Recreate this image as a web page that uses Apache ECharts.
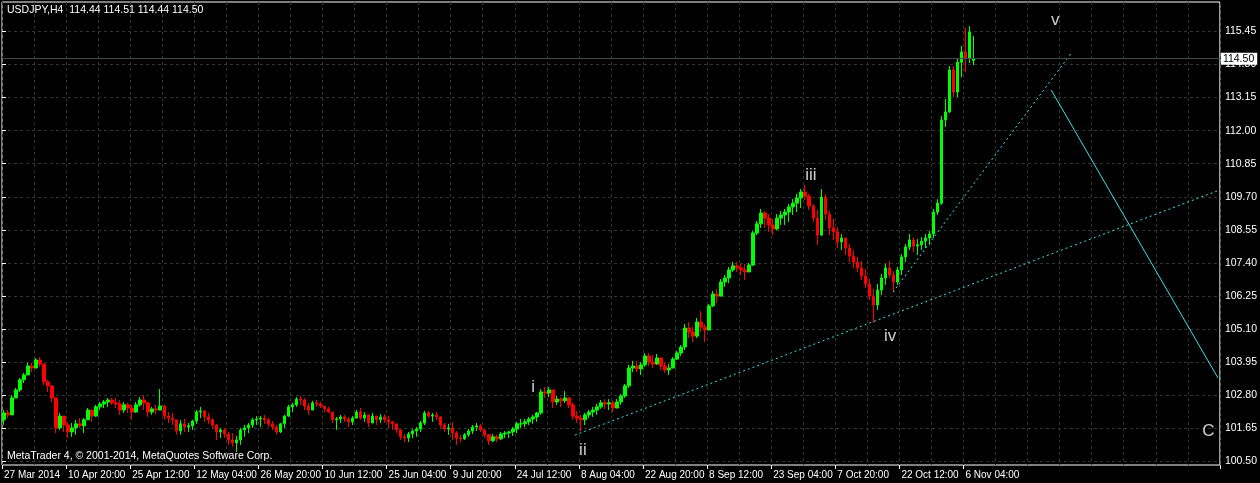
<!DOCTYPE html>
<html><head><meta charset="utf-8">
<script src="https://cdn.jsdelivr.net/npm/echarts@6/dist/echarts.min.js"></script>
<style>html,body{margin:0;padding:0;background:#000;}#c{width:1260px;height:483px;}</style>
</head><body><div id="c"></div>
<script>
// ---- data (USDJPY H4, each candle = 4 H4 bars) ----
const timeLabels = ['27 Mar 2014','10 Apr 20:00','25 Apr 12:00','12 May 04:00','26 May 20:00','10 Jun 12:00','25 Jun 04:00','9 Jul 20:00','24 Jul 12:00','8 Aug 04:00','22 Aug 20:00','8 Sep 12:00','23 Sep 04:00','7 Oct 20:00','22 Oct 12:00','6 Nov 04:00'];
const priceTicks = [100.50,101.65,102.80,103.95,105.10,106.25,107.40,108.55,109.70,110.85,112.00,113.15,114.30,115.45];

const closes = [102.19,102.12,102.71,102.99,103.34,103.51,103.82,103.75,104.03,103.89,
103.27,103.13,102.71,101.67,102.08,101.77,101.53,101.67,101.81,101.74,
101.95,102.29,102.08,102.40,102.50,102.57,102.64,102.54,102.50,102.29,
102.47,102.36,102.22,102.47,102.64,102.54,102.22,102.33,102.29,102.43,
102.08,102.01,101.95,101.56,101.81,101.70,101.74,101.91,102.22,102.26,
102.05,101.95,101.77,101.53,101.60,101.46,101.25,101.15,101.25,101.60,
101.67,101.77,101.95,101.98,102.01,101.95,101.81,101.70,101.53,101.81,
102.08,102.40,102.47,102.67,102.64,102.43,102.29,102.54,102.50,102.43,
102.33,102.22,101.95,101.98,102.05,101.98,101.88,102.01,102.22,102.01,
102.12,101.84,102.08,101.95,102.05,101.95,101.88,101.81,101.60,101.36,
101.32,101.46,101.56,101.63,101.84,102.19,102.08,102.12,102.05,101.77,
101.63,101.67,101.49,101.32,101.29,101.43,101.56,101.70,101.74,101.60,
101.43,101.22,101.36,101.29,101.46,101.49,101.53,101.63,101.81,101.81,
101.88,101.98,102.05,102.19,102.92,102.88,102.99,102.57,102.67,102.61,
102.71,102.47,102.08,102.01,101.95,102.12,102.22,102.29,102.40,102.54,
102.50,102.54,102.36,102.57,102.78,103.13,103.75,103.82,103.72,103.86,
104.17,103.96,103.89,104.10,103.82,103.68,103.75,104.06,104.27,104.48,
105.14,105.00,104.86,105.35,105.18,105.07,105.91,106.32,106.25,106.74,
106.88,107.16,107.30,107.23,107.16,107.09,107.33,108.44,108.76,109.14,
108.96,108.72,108.58,108.96,109.07,109.17,109.35,109.48,109.66,109.87,
109.73,109.38,108.96,108.37,109.69,109.10,108.62,108.48,108.13,108.27,
107.92,107.64,107.43,107.23,106.95,106.67,106.25,105.94,106.46,106.88,
107.23,106.98,106.74,107.16,107.61,107.96,108.20,107.99,108.03,108.16,
108.27,108.41,109.17,109.48,112.37,112.65,114.11,113.34,114.38,114.73,
114.52,115.43,114.50];

const opens = [101.95,102.19,102.12,102.71,102.99,103.34,103.51,103.82,103.75,104.03,
103.89,103.27,103.13,102.71,101.67,102.08,101.77,101.53,101.67,101.81,
101.74,101.95,102.29,102.08,102.40,102.50,102.57,102.64,102.54,102.50,
102.29,102.47,102.36,102.22,102.47,102.64,102.54,102.22,102.33,102.29,
102.43,102.08,102.01,101.95,101.56,101.81,101.70,101.74,101.91,102.22,
102.26,102.05,101.95,101.77,101.53,101.60,101.46,101.25,101.15,101.25,
101.60,101.67,101.77,101.95,101.98,102.01,101.95,101.81,101.70,101.53,
101.81,102.08,102.40,102.47,102.67,102.64,102.43,102.29,102.54,102.50,
102.43,102.33,102.22,101.95,101.98,102.05,101.98,101.88,102.01,102.22,
102.01,102.12,101.84,102.08,101.95,102.05,101.95,101.88,101.81,101.60,
101.36,101.32,101.46,101.56,101.63,101.84,102.19,102.08,102.12,102.05,
101.77,101.63,101.67,101.49,101.32,101.29,101.43,101.56,101.70,101.74,
101.60,101.43,101.22,101.36,101.29,101.46,101.49,101.53,101.63,101.81,
101.81,101.88,101.98,102.05,102.19,102.92,102.88,102.99,102.57,102.67,
102.61,102.71,102.47,102.08,102.01,101.95,102.12,102.22,102.29,102.40,
102.54,102.50,102.54,102.36,102.57,102.78,103.13,103.75,103.82,103.72,
103.86,104.17,103.96,103.89,104.10,103.82,103.68,103.75,104.06,104.27,
104.48,105.14,105.00,104.86,105.35,105.18,105.07,105.91,106.32,106.25,
106.74,106.88,107.16,107.30,107.23,107.16,107.09,107.33,108.44,108.76,
109.14,108.96,108.72,108.58,108.96,109.07,109.17,109.35,109.48,109.66,
109.87,109.73,109.38,108.96,108.37,109.69,109.10,108.62,108.48,108.13,
108.27,107.92,107.64,107.43,107.23,106.95,106.67,106.25,105.94,106.46,
106.88,107.23,106.98,106.74,107.16,107.61,107.96,108.20,107.99,108.03,
108.16,108.27,108.41,109.17,109.48,112.37,112.65,114.11,113.34,114.38,
114.73,114.52,114.44];

const highs = [102.29,102.29,102.81,103.06,103.40,103.58,103.93,103.93,104.10,104.13,
103.86,103.34,103.16,102.64,102.19,102.05,101.88,101.84,101.95,102.01,
102.01,102.36,102.29,102.47,102.57,102.64,102.71,102.71,102.71,102.64,
102.57,102.54,102.47,102.57,102.74,102.81,102.57,102.40,102.47,103.02,
102.47,102.22,102.19,101.95,101.95,101.98,101.84,101.95,102.29,102.40,
102.29,102.19,102.01,101.81,101.67,101.67,101.53,101.49,101.39,101.67,
101.77,101.84,102.01,102.08,102.08,102.12,102.01,101.91,101.77,101.84,
102.12,102.47,102.54,102.74,102.78,102.71,102.54,102.61,102.64,102.57,
102.43,102.40,102.19,102.05,102.12,102.12,102.05,102.08,102.29,102.36,
102.22,102.08,102.19,102.08,102.15,102.15,102.08,101.91,101.81,101.60,
101.46,101.53,101.63,101.70,101.91,102.26,102.26,102.19,102.22,102.08,
101.84,101.81,101.88,101.56,101.43,101.49,101.63,101.77,101.84,101.81,
101.60,101.46,101.46,101.43,101.53,101.56,101.56,101.70,101.88,101.98,
101.98,102.05,102.12,102.22,103.02,103.09,103.09,102.95,102.78,102.74,
102.95,102.74,102.54,102.26,102.12,102.19,102.29,102.40,102.50,102.64,
102.67,102.67,102.61,102.67,102.85,103.20,103.86,104.00,104.00,103.96,
104.27,104.27,104.20,104.24,104.06,103.96,103.89,104.13,104.34,104.55,
105.28,105.35,105.18,105.49,105.73,105.28,105.97,106.43,106.50,106.84,
106.98,107.26,107.44,107.44,107.37,107.37,107.40,108.51,108.86,109.28,
109.21,109.10,108.93,109.10,109.21,109.28,109.45,109.62,109.80,109.97,
110.11,109.80,109.45,109.24,109.97,109.80,109.21,108.93,108.65,108.41,
108.23,108.06,107.85,107.61,107.47,107.19,106.84,106.50,106.67,107.02,
107.37,107.47,107.12,107.26,107.71,108.06,108.41,108.30,108.23,108.30,
108.41,108.51,109.28,109.62,112.51,113.10,114.25,114.25,114.49,114.94,
115.57,115.63,115.29];

const lows = [101.77,102.01,102.12,102.71,102.92,103.23,103.51,103.61,103.79,103.79,
103.16,102.92,102.57,101.49,101.60,101.53,101.32,101.36,101.43,101.67,
101.49,101.95,101.88,102.05,102.29,102.36,102.40,102.47,102.36,102.12,
102.19,102.19,101.95,102.19,102.40,102.29,102.05,102.12,102.15,102.29,
101.95,101.84,101.77,101.43,101.43,101.53,101.53,101.60,101.81,102.01,
101.88,101.81,101.67,101.25,101.32,101.32,101.08,101.01,100.83,101.08,
101.36,101.49,101.67,101.77,101.70,101.81,101.70,101.60,101.43,101.49,
101.67,102.05,102.22,102.40,102.47,102.29,102.12,102.29,102.40,102.36,
102.22,102.19,101.84,101.60,101.84,101.88,101.70,101.77,102.01,101.95,
101.88,101.70,101.84,101.77,101.84,101.84,101.67,101.60,101.49,101.25,
101.18,101.18,101.32,101.36,101.53,101.77,102.01,101.88,101.95,101.67,
101.53,101.43,101.25,101.08,101.18,101.25,101.36,101.46,101.56,101.53,
101.32,101.08,101.18,101.18,101.25,101.32,101.32,101.39,101.49,101.67,
101.70,101.77,101.81,101.88,102.12,102.71,102.74,102.36,102.47,102.40,
102.54,102.36,101.95,101.84,101.56,101.77,102.01,102.05,102.12,102.33,
102.33,102.29,102.22,102.36,102.47,102.71,103.06,103.61,103.61,103.51,
103.79,103.82,103.75,103.86,103.68,103.58,103.51,103.75,104.03,104.17,
104.38,104.79,104.65,104.79,105.00,104.65,105.07,105.87,106.01,106.29,
106.57,106.70,107.09,107.09,106.98,106.81,107.09,107.30,108.37,108.62,
108.62,108.48,108.37,108.55,108.72,108.72,108.83,109.07,109.17,109.31,
109.59,109.24,108.83,108.03,108.34,108.89,108.37,108.20,107.92,107.85,
107.68,107.43,107.23,107.09,106.81,106.53,106.11,105.32,105.77,106.29,
106.64,106.88,106.39,106.64,106.98,107.43,107.85,107.78,107.68,107.85,
107.92,108.03,108.27,109.07,109.42,112.13,112.61,113.17,113.17,113.86,
114.04,114.35,114.28];

const lastPrice = 114.50;
const headerText = 'USDJPY,H4  114.44 114.51 114.44 114.50';
const footerText = 'MetaTrader 4, \u00a9 2001-2014, MetaQuotes Software Corp.';
const slotCount = 304; // candle slots across the chart width (incl. right shift)

// drawn objects (x in candle-slot units, y in price)
const dottedLine1 = [[143.0,101.42],[304.0,109.94]];
const dottedLine2 = [[222.4,106.39],[267.1,114.73]];
const solidLine   = [[261.9,113.41],[303.5,103.41]];
const waveNames = ['i','ii','iii','iv','v','C'];
const waveX = [132.6,145.0,201.9,221.7,262.9,301.1];
const waveY = [103.09,100.90,110.46,104.86,115.84,101.56];

// ---- build ----
const cats = Array.from({length: slotCount}, (_, i) => 's' + i);
const candles = closes.map((c, i) => [opens[i], c, lows[i], highs[i]]);
const waves = waveNames.map((n, i) => ({name: n, value: [waveX[i], waveY[i]]}));
const FONT = 'Liberation Sans';
const CYAN = '#3fe0f0';
const GRIDC = '#2c382c';

const chart = echarts.init(document.getElementById('c'), null, {renderer: 'canvas'});
chart.setOption({
  backgroundColor: '#000',
  animation: false,
  grid: {left: 2, right: 40, top: 2, bottom: 18, show: true, borderColor: '#ffffff', borderWidth: 1, backgroundColor: 'transparent'},
  xAxis: [{
    type: 'category', data: cats, boundaryGap: true,
    axisLine: {show: false},
    axisTick: {show: true, length: 4, lineStyle: {color: '#fff'},
      interval: (i) => i % 16 === 0 && i / 16 < timeLabels.length},
    axisLabel: {color: '#fff', fontSize: 10, fontFamily: FONT, align: 'left', margin: 5,
      interval: (i) => i % 16 === 0 && i / 16 < timeLabels.length,
      formatter: (v, i) => timeLabels[i / 16] || ''},
    splitLine: {show: true, interval: (i) => i % 8 === 0, lineStyle: {color: GRIDC, type: [3, 3], width: 1}}
  }, {
    type: 'value', min: 0, max: slotCount, show: false
  }],
  yAxis: {
    type: 'value', position: 'right', min: 100.38, max: 116.47, scale: true,
    axisLine: {show: false},
    axisTick: {show: true, length: 4, customValues: priceTicks, lineStyle: {color: '#fff'}},
    axisLabel: {customValues: priceTicks, color: '#fff', fontSize: 10.5, fontFamily: FONT, margin: 5,
      formatter: (v) => Number(v).toFixed(2)},
    splitLine: {show: true, lineStyle: {color: GRIDC, type: [3, 3], width: 1}}
  },
  graphic: [
    {type: 'text', left: 7, top: 5, z: 100, style: {text: headerText, fill: '#fff', font: '10.5px "Liberation Sans"'}},
    {type: 'text', left: 7, top: 451, z: 100, style: {text: footerText, fill: '#fff', font: '10.5px "Liberation Sans"'}}
  ],
  series: [
    {
      type: 'candlestick', xAxisIndex: 0, yAxisIndex: 0, data: candles, barWidth: 3,
      itemStyle: {color: '#00ff00', color0: '#ff0000', borderColor: '#00ff00', borderColor0: '#ff0000', borderWidth: 1},
      markLine: {
        silent: true, symbol: 'none', animation: false,
        lineStyle: {color: '#3e4e46', type: 'solid', width: 1},
        label: {show: true, position: 'end', distance: 1, formatter: () => lastPrice.toFixed(2),
          backgroundColor: '#fff', color: '#000', fontSize: 10.5, fontFamily: FONT, padding: [1, 3, 0, 2]},
        data: [{yAxis: lastPrice}]
      }
    },
    {type: 'line', xAxisIndex: 1, data: dottedLine1, showSymbol: false, symbol: 'none', silent: true,
      lineStyle: {color: CYAN, width: 1, type: [2, 3]}},
    {type: 'line', xAxisIndex: 1, data: dottedLine2, showSymbol: false, symbol: 'none', silent: true,
      lineStyle: {color: CYAN, width: 1, type: [2, 3]}},
    {type: 'line', xAxisIndex: 1, data: solidLine, showSymbol: false, symbol: 'none', silent: true,
      lineStyle: {color: CYAN, width: 1, type: 'solid'}},
    {type: 'scatter', xAxisIndex: 1, data: waves, symbolSize: 0, silent: true,
      label: {show: true, position: 'inside', formatter: (p) => p.name, color: '#fff', fontSize: 17, fontFamily: FONT}}
  ]
});
</script>
</body></html>
